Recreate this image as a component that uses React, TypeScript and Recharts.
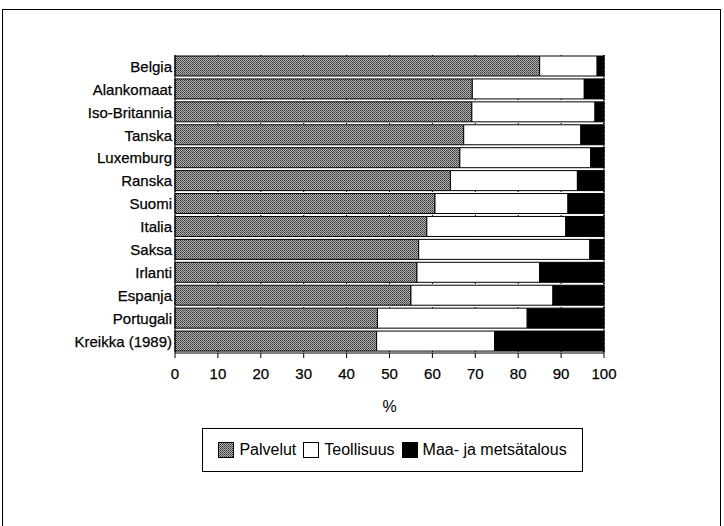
import { BarChart, Bar, XAxis, YAxis, CartesianGrid, ReferenceLine } from 'recharts';

const countries = [
  'Belgia',
  'Alankomaat',
  'Iso-Britannia',
  'Tanska',
  'Luxemburg',
  'Ranska',
  'Suomi',
  'Italia',
  'Saksa',
  'Irlanti',
  'Espanja',
  'Portugali',
  'Kreikka (1989)',
];
const palvelut = [85, 69.3, 69.2, 67.3, 66.4, 64.2, 60.6, 58.7, 56.8, 56.4, 55, 47.2, 47];
const teollisuus = [13.4, 26.1, 28.7, 27.3, 30.5, 29.6, 31, 32.4, 39.9, 28.6, 33.1, 34.9, 27.5];
const maatalous = [1.6, 4.6, 2.1, 5.4, 3.1, 6.2, 8.4, 8.9, 3.3, 15, 11.9, 17.9, 25.5];
const xTicks = [0, 10, 20, 30, 40, 50, 60, 70, 80, 90, 100];
const seriesNames = ['Palvelut', 'Teollisuus', 'Maa- ja metsätalous'];

const data = countries.map((name, i) => ({
  name,
  palvelut: palvelut[i],
  teollisuus: teollisuus[i],
  maatalous: maatalous[i],
}));

const font = '"Liberation Sans", Arial, Helvetica, sans-serif';
const tickStyle = { fill: '#000', fontSize: 15, fontFamily: font, stroke: '#000', strokeWidth: 0.25 };

// grey dither like the printed raster
const Stipple = ({ id }: { id: string }) => (
  <pattern id={id} patternUnits="userSpaceOnUse" width="2" height="2">
    <rect x="0" y="0" width="2" height="2" fill="#b4b4b4" />
    <rect x="0" y="0" width="1" height="1" fill="#333" />
    <rect x="1" y="1" width="1" height="1" fill="#555" />
  </pattern>
);

const Swatch = ({ kind }: { kind: number }) => (
  <svg width={16} height={16} style={{ display: 'block' }}>
    <defs>
      <Stipple id="stippleLegend" />
    </defs>
    <rect
      x={0.5}
      y={0.5}
      width={15}
      height={15}
      fill={kind === 0 ? 'url(#stippleLegend)' : kind === 1 ? '#fff' : '#000'}
      stroke="#000"
    />
  </svg>
);

export default function App() {
  return (
    <div style={{ position: 'absolute', left: 0, top: 0, width: 724, height: 526, background: '#fff', fontFamily: font }}>
      <div
        style={{
          position: 'absolute',
          left: 2,
          top: 9,
          width: 717,
          height: 517,
          borderTop: '1px solid #000',
          borderLeft: '1px solid #000',
          borderRight: '1px solid #000',
        }}
      />
      <div style={{ position: 'absolute', left: 0, top: 0 }}>
        <BarChart
          width={724}
          height={526}
          data={data}
          layout="vertical"
          margin={{ top: 55, right: 120, bottom: 113, left: 0 }}
          barSize={20}
        >
          <defs>
            <Stipple id="stipple" />
          </defs>
          <CartesianGrid horizontal={false} stroke="#000" strokeDasharray="1 3" />
          <XAxis
            type="number"
            domain={[0, 100]}
            ticks={xTicks}
            interval={0}
            height={60}
            tickSize={5}
            tickMargin={10}
            stroke="#000"
            tick={tickStyle}
            label={{ value: '%', position: 'insideBottom', offset: 1, fill: '#000', fontSize: 16, fontFamily: font }}
          />
          <YAxis
            type="category"
            dataKey="name"
            width={175}
            tickLine={false}
            tickSize={0}
            tickMargin={3}
            stroke="#000"
            interval={0}
            tick={tickStyle}
          />
          <Bar dataKey="palvelut" stackId="a" fill="url(#stipple)" stroke="#000" strokeWidth={1} isAnimationActive={false} />
          <Bar dataKey="teollisuus" stackId="a" fill="#fff" stroke="#000" strokeWidth={1} isAnimationActive={false} />
          <Bar dataKey="maatalous" stackId="a" fill="#000" stroke="#000" strokeWidth={1} isAnimationActive={false} />
          <ReferenceLine x={100} stroke="#000" />
        </BarChart>
      </div>
      <div
        style={{
          position: 'absolute',
          left: 202,
          top: 428,
          width: 379,
          height: 42,
          border: '1px solid #000',
          display: 'flex',
          alignItems: 'center',
          justifyContent: 'center',
          fontSize: 16,
          color: '#000',
        }}
      >
        {seriesNames.map((s, i) => (
          <div key={s} style={{ display: 'flex', alignItems: 'center', marginRight: i < 2 ? 7 : 0 }}>
            <Swatch kind={i} />
            <span style={{ marginLeft: 5 }}>{s}</span>
          </div>
        ))}
      </div>
    </div>
  );
}
